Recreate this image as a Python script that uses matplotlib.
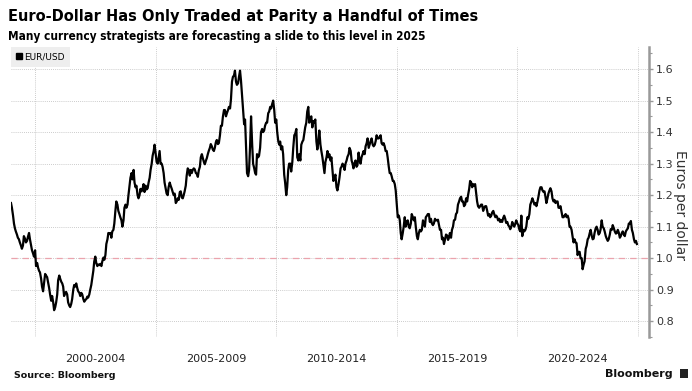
import pandas as pd
import matplotlib
matplotlib.use("Agg")
import matplotlib.pyplot as plt
from matplotlib.patches import Patch, Rectangle
from matplotlib.ticker import MultipleLocator

# EUR/USD, two readings per month (1st and 15th)

eur_1999 = [1.175, 1.160, 1.135, 1.110, 1.095, 1.085, 1.075, 1.065, 1.060, 1.050, 1.040, 1.030,
            1.040, 1.070, 1.062, 1.050, 1.055, 1.068, 1.080, 1.060, 1.040, 1.025, 1.015, 1.005]
eur_2000 = [1.025, 0.975, 0.985, 0.970, 0.960, 0.955, 0.935, 0.910, 0.895, 0.920, 0.950, 0.945,
            0.940, 0.925, 0.905, 0.885, 0.865, 0.880, 0.860, 0.835, 0.845, 0.860, 0.885, 0.930]
eur_2001 = [0.945, 0.935, 0.925, 0.920, 0.910, 0.880, 0.890, 0.893, 0.885, 0.860, 0.850, 0.845,
            0.855, 0.870, 0.900, 0.915, 0.910, 0.920, 0.905, 0.895, 0.890, 0.880, 0.890, 0.885]
eur_2002 = [0.870, 0.862, 0.868, 0.870, 0.878, 0.875, 0.885, 0.900, 0.915, 0.935, 0.960, 0.990,
            1.005, 0.985, 0.975, 0.980, 0.978, 0.982, 0.975, 0.990, 1.002, 0.995, 1.010, 1.045]
eur_2003 = [1.060, 1.080, 1.077, 1.080, 1.065, 1.085, 1.090, 1.110, 1.150, 1.180, 1.170, 1.150,
            1.140, 1.130, 1.120, 1.100, 1.120, 1.160, 1.170, 1.160, 1.170, 1.200, 1.230, 1.255]
eur_2004 = [1.270, 1.250, 1.280, 1.240, 1.225, 1.230, 1.200, 1.190, 1.200, 1.220, 1.212, 1.220,
            1.235, 1.210, 1.230, 1.218, 1.222, 1.240, 1.255, 1.280, 1.300, 1.325, 1.340, 1.360]
eur_2005 = [1.330, 1.305, 1.300, 1.320, 1.340, 1.300, 1.300, 1.290, 1.270, 1.240, 1.220, 1.205,
            1.200, 1.225, 1.240, 1.230, 1.220, 1.210, 1.200, 1.205, 1.175, 1.180, 1.190, 1.185]
eur_2006 = [1.210, 1.212, 1.192, 1.190, 1.200, 1.212, 1.230, 1.262, 1.285, 1.280, 1.262, 1.280,
            1.270, 1.280, 1.285, 1.282, 1.270, 1.268, 1.258, 1.278, 1.290, 1.320, 1.330, 1.318]
eur_2007 = [1.305, 1.298, 1.310, 1.318, 1.330, 1.340, 1.350, 1.362, 1.355, 1.345, 1.340, 1.350,
            1.368, 1.375, 1.362, 1.365, 1.390, 1.420, 1.420, 1.448, 1.470, 1.470, 1.450, 1.460]
eur_2008 = [1.470, 1.480, 1.475, 1.505, 1.560, 1.575, 1.580, 1.595, 1.560, 1.550, 1.555, 1.575,
            1.595, 1.565, 1.515, 1.475, 1.425, 1.440, 1.350, 1.270, 1.260, 1.280, 1.360, 1.450]
eur_2009 = [1.360, 1.300, 1.285, 1.270, 1.265, 1.330, 1.320, 1.325, 1.350, 1.400, 1.410, 1.400,
            1.405, 1.420, 1.430, 1.430, 1.460, 1.465, 1.480, 1.475, 1.490, 1.500, 1.470, 1.430]
eur_2010 = [1.440, 1.400, 1.370, 1.360, 1.370, 1.345, 1.355, 1.330, 1.265, 1.240, 1.200, 1.225,
            1.280, 1.300, 1.300, 1.275, 1.305, 1.350, 1.390, 1.395, 1.410, 1.320, 1.310, 1.330]
eur_2011 = [1.310, 1.360, 1.370, 1.375, 1.395, 1.415, 1.430, 1.465, 1.480, 1.430, 1.440, 1.450,
            1.415, 1.435, 1.430, 1.440, 1.370, 1.345, 1.370, 1.405, 1.360, 1.340, 1.320, 1.298]
eur_2012 = [1.270, 1.305, 1.320, 1.340, 1.320, 1.330, 1.310, 1.320, 1.280, 1.245, 1.255, 1.265,
            1.225, 1.215, 1.235, 1.255, 1.285, 1.290, 1.300, 1.295, 1.280, 1.300, 1.310, 1.322]
eur_2013 = [1.330, 1.350, 1.340, 1.310, 1.300, 1.285, 1.302, 1.310, 1.290, 1.295, 1.335, 1.310,
            1.300, 1.320, 1.330, 1.340, 1.330, 1.355, 1.365, 1.380, 1.350, 1.360, 1.372, 1.380]
eur_2014 = [1.360, 1.355, 1.360, 1.372, 1.390, 1.380, 1.380, 1.385, 1.390, 1.365, 1.360, 1.365,
            1.355, 1.340, 1.340, 1.320, 1.290, 1.270, 1.270, 1.260, 1.245, 1.245, 1.235, 1.215]
eur_2015 = [1.170, 1.130, 1.135, 1.120, 1.080, 1.060, 1.080, 1.100, 1.130, 1.100, 1.115, 1.120,
            1.100, 1.095, 1.110, 1.140, 1.130, 1.120, 1.130, 1.100, 1.070, 1.060, 1.080, 1.090]
eur_2016 = [1.085, 1.090, 1.120, 1.110, 1.100, 1.130, 1.135, 1.140, 1.140, 1.115, 1.125, 1.110,
            1.105, 1.110, 1.125, 1.120, 1.120, 1.122, 1.105, 1.090, 1.090, 1.060, 1.065, 1.045]
eur_2017 = [1.060, 1.075, 1.072, 1.058, 1.065, 1.080, 1.065, 1.090, 1.100, 1.120, 1.122, 1.140,
            1.145, 1.170, 1.180, 1.190, 1.195, 1.180, 1.180, 1.165, 1.170, 1.190, 1.180, 1.200]
eur_2018 = [1.220, 1.245, 1.240, 1.225, 1.235, 1.230, 1.235, 1.210, 1.180, 1.165, 1.160, 1.165,
            1.170, 1.170, 1.150, 1.160, 1.165, 1.165, 1.150, 1.135, 1.140, 1.130, 1.135, 1.145]
eur_2019 = [1.150, 1.140, 1.130, 1.135, 1.130, 1.120, 1.125, 1.115, 1.120, 1.115, 1.128, 1.135,
            1.125, 1.112, 1.115, 1.105, 1.100, 1.092, 1.100, 1.115, 1.105, 1.100, 1.110, 1.120]
eur_2020 = [1.110, 1.105, 1.090, 1.085, 1.135, 1.070, 1.090, 1.085, 1.090, 1.100, 1.130, 1.125,
            1.140, 1.170, 1.180, 1.190, 1.180, 1.170, 1.175, 1.165, 1.180, 1.195, 1.215, 1.225]
eur_2021 = [1.225, 1.215, 1.210, 1.212, 1.195, 1.175, 1.190, 1.205, 1.215, 1.222, 1.212, 1.190,
            1.180, 1.185, 1.175, 1.180, 1.180, 1.160, 1.160, 1.165, 1.145, 1.130, 1.130, 1.135]
eur_2022 = [1.140, 1.130, 1.135, 1.125, 1.100, 1.100, 1.090, 1.070, 1.050, 1.060, 1.050, 1.048,
            1.010, 1.020, 1.020, 1.000, 1.000, 0.965, 0.980, 0.990, 1.030, 1.040, 1.060, 1.065]
eur_2023 = [1.080, 1.090, 1.070, 1.060, 1.062, 1.080, 1.095, 1.100, 1.090, 1.075, 1.080, 1.092,
            1.120, 1.100, 1.095, 1.085, 1.070, 1.062, 1.055, 1.060, 1.075, 1.092, 1.090, 1.105]
eur_2024 = [1.095, 1.085, 1.078, 1.080, 1.090, 1.082, 1.065, 1.070, 1.080, 1.085, 1.075, 1.070,
            1.085, 1.090, 1.095, 1.110, 1.110, 1.118, 1.090, 1.080, 1.060, 1.050, 1.055, 1.045]

period_labels = ["2000-2004", "2005-2009", "2010-2014", "2015-2019", "2020-2024"]
y_ticks = [0.8, 0.9, 1.0, 1.1, 1.2, 1.3, 1.4, 1.5, 1.6]

eurusd = (eur_1999 + eur_2000 + eur_2001 + eur_2002 + eur_2003 + eur_2004 + eur_2005
          + eur_2006 + eur_2007 + eur_2008 + eur_2009 + eur_2010 + eur_2011 + eur_2012
          + eur_2013 + eur_2014 + eur_2015 + eur_2016 + eur_2017 + eur_2018 + eur_2019
          + eur_2020 + eur_2021 + eur_2022 + eur_2023 + eur_2024)
dates = pd.date_range("1999-01-01", periods=len(eurusd), freq="SMS")

fig = plt.figure(figsize=(6.92, 3.91), dpi=100)
ax = fig.add_axes([0.0159, 0.1381, 0.922, 0.7417])

ax.plot(dates, eurusd, color="black", linewidth=1.6, zorder=3)
ax.axhline(1.0, color="#eba3ad", linewidth=0.9, linestyle=(0, (5, 4)), zorder=2)

ax.set_xlim(pd.Timestamp("1999-01-01"), pd.Timestamp("2025-06-17"))
ax.set_ylim(0.75, 1.67)

# x: gridlines at 5-year marks, labels centred between them
grid_years = [pd.Timestamp(f"{y}-01-01") for y in range(2000, 2030, 5)]
label_pos = [grid_years[i] + (grid_years[i + 1] - grid_years[i]) / 2 for i in range(5)]
ax.set_xticks(grid_years)
ax.set_xticklabels([])
ax.set_xticks(label_pos, minor=True)
ax.set_xticklabels(period_labels, minor=True)
ax.tick_params(axis="x", which="both", length=0, labelsize=8, labelcolor="#222222", pad=12)

# y on the right
ax.yaxis.tick_right()
ax.set_yticks(y_ticks)
ax.set_yticklabels([f"{v:.1f}" for v in y_ticks])
ax.yaxis.set_minor_locator(MultipleLocator(0.05))
ax.tick_params(axis="y", which="major", length=3, width=1, color="#999999",
               labelsize=8, labelcolor="#333333", pad=2)
ax.tick_params(axis="y", which="minor", length=2, width=0.8, color="#999999")

for s in ["top", "left", "bottom"]:
    ax.spines[s].set_visible(False)
ax.spines["right"].set_color("#999999")
ax.spines["right"].set_linewidth(1.8)

ax.grid(axis="y", which="major", color="#bbbbbb", linewidth=0.6, linestyle=(0, (1, 1.5)))
ax.grid(axis="x", which="major", color="#bbbbbb", linewidth=0.6, linestyle=(0, (1, 1.5)))
ax.set_axisbelow(True)

ax.legend(handles=[Patch(color="black")], labels=["EUR/USD"], loc="upper left",
          bbox_to_anchor=(0, 1), borderaxespad=0, frameon=True, facecolor="#eeeeee",
          edgecolor="none", fancybox=False, framealpha=1, handlelength=0.6,
          handleheight=0.6, handletextpad=0.3, fontsize=6.5, borderpad=0.6)

fig.text(680 / 692, 1 - 205 / 391, "Euros per dollar", rotation=270, ha="center",
         va="center", fontsize=10, color="#333333")

fig.text(0.0116, 1 - 21 / 391, "Euro-Dollar Has Only Traded at Parity a Handful of Times",
         fontsize=11.7, fontweight="bold", fontstretch="condensed", va="baseline")
fig.text(0.0116, 1 - 40 / 391,
         "Many currency strategists are forecasting a slide to this level in 2025",
         fontsize=8.5, fontweight="bold", fontstretch="condensed", va="baseline")
fig.text(14 / 692, 1 - 378 / 391, "Source: Bloomberg", fontsize=6.8, fontweight="bold",
         va="baseline", color="#111111")
fig.text(673 / 692, 1 - 377 / 391, "Bloomberg", fontsize=8, fontweight="bold",
         va="baseline", ha="right", color="#111111")
fig.patches.append(Rectangle((680 / 692, 1 - 378 / 391), 8 / 692, 9 / 391,
                             transform=fig.transFigure, facecolor="#222222",
                             edgecolor="none"))

fig.savefig("out.png", dpi=100)
